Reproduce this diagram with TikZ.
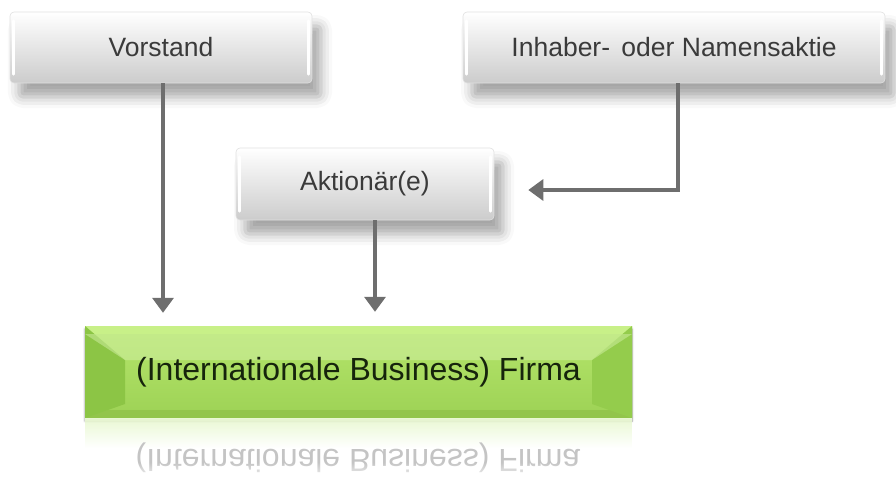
\documentclass[tikz,border=0pt]{standalone}
\usepackage{fontspec}
\setmainfont{Liberation Sans}
\usetikzlibrary{arrows.meta,shadows.blur,fadings}
\definecolor{txtgray}{HTML}{3A3A3A}
\definecolor{arrgray}{HTML}{6E6E6E}
\definecolor{gtop}{HTML}{B6E66C}
\definecolor{gbot}{HTML}{9DD255}
\definecolor{gbevL}{HTML}{8CC545}
\definecolor{gbevR}{HTML}{94CC4C}
\definecolor{gtopstrip}{HTML}{C8F088}
\definecolor{gbotstrip}{HTML}{8DC047}
\definecolor{gtext}{HTML}{16240C}
\definecolor{reflgray}{HTML}{C4C4C4}
\tikzfading[name=fadedown, top color=transparent!0, bottom color=transparent!100]
\tikzfading[name=fadeup, top color=transparent!100, bottom color=transparent!0]
\tikzset{
  graybox/.style={rounded corners=4pt, top color=white, bottom color=black!20,
    draw=black!12, line width=0.6pt, text=txtgray,
    font=\fontsize{26.5}{31}\selectfont, inner sep=0pt,
    blur shadow={shadow xshift=9pt, shadow yshift=-14pt, shadow blur radius=11pt, shadow opacity=35}},
  greenbox/.style={top color=gtop, bottom color=gbot, text=gtext, inner sep=0pt,
    font=\fontsize{32}{38}\selectfont,
    blur shadow={shadow xshift=0pt, shadow yshift=-3pt, shadow blur radius=2pt, shadow opacity=45},
    path picture={
      \fill[gtopstrip] (path picture bounding box.north west) rectangle ([yshift=-8pt]path picture bounding box.north east);
      \fill[gbotstrip, opacity=.7] ([yshift=8pt]path picture bounding box.south west) rectangle (path picture bounding box.south east);
      \fill[gbevL] (path picture bounding box.north west) -- ([xshift=40pt,yshift=-34pt]path picture bounding box.north west)
        -- ([xshift=40pt,yshift=14pt]path picture bounding box.south west) -- (path picture bounding box.south west) -- cycle;
      \fill[gbevR] (path picture bounding box.north east) -- ([xshift=-40pt,yshift=-34pt]path picture bounding box.north east)
        -- ([xshift=-40pt,yshift=14pt]path picture bounding box.south east) -- (path picture bounding box.south east) -- cycle;
      \fill[gtop!60!white, opacity=.5] ([yshift=-8pt]path picture bounding box.north west) -- ([xshift=40pt,yshift=-34pt]path picture bounding box.north west)
        -- ([xshift=-40pt,yshift=-34pt]path picture bounding box.north east) -- ([yshift=-8pt]path picture bounding box.north east) -- cycle;
    }},
  arr/.style={draw=arrgray, line width=3.4pt, -{Triangle[width=21pt,length=15pt]}},
  edgehl/.style={draw=white, line width=2.5pt, line cap=round},
  refltext/.style={text=reflgray, font=\fontsize{32}{38}\selectfont, inner sep=0pt}
}
\begin{document}
\begin{tikzpicture}[x=1pt,y=-1pt]
\useasboundingbox (0,0) rectangle (896,493);

% gray boxes
\node[graybox, minimum width=302pt, minimum height=71pt] (vor) at (161,47.5) {Vorstand};
\node[graybox, minimum width=422pt, minimum height=71pt] (inh) at (674,47.5) {Inhaber-\hspace{4pt} oder Namensaktie};
\node[graybox, minimum width=258pt, minimum height=72pt] (akt) at (365,184) {Aktionär(e)};

% edge highlights
\foreach \n in {vor,inh,akt}{
  \draw[edgehl] ([xshift=4pt,yshift=-9pt]\n.north west) -- ([xshift=4pt,yshift=9pt]\n.south west);
  \draw[edgehl] ([xshift=-4pt,yshift=-9pt]\n.north east) -- ([xshift=-4pt,yshift=9pt]\n.south east);
}

% green box
\node[greenbox, minimum width=547pt, minimum height=92pt] (firma) at (358.5,372) {(Internationale Business) Firma};

% reflection
\fill[gtop!30!white, path fading=fadedown] (firma.south west) rectangle ([yshift=-30pt]firma.south east);
\node[refltext] (refl) at (358,458) {\scalebox{1}[-1]{(Internationale Business) Firma}};
\fill[white, path fading=fadeup] ([yshift=-44pt]firma.south west) rectangle ([yshift=-64pt]firma.south east);

% connectors
\draw[arr, shorten >=13pt] ([xshift=2pt]vor.south) -- ([xshift=2pt]vor.south |- firma.north);
\draw[arr, shorten >=14pt] ([xshift=10pt]akt.south) -- ([xshift=10pt]akt.south |- firma.north);
\draw[arr, shorten >=34pt] ([xshift=4pt]inh.south) |- ([yshift=-6pt]akt.east);
\end{tikzpicture}
\end{document}
